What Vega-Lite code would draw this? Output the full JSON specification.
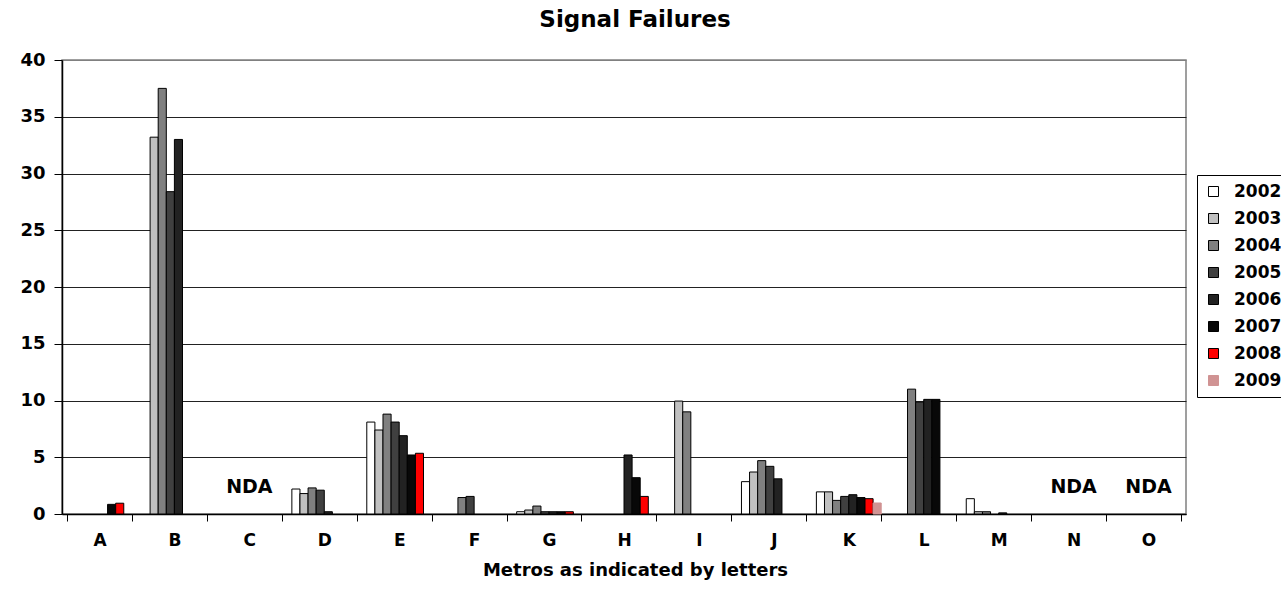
{
  "$schema": "https://vega.github.io/schema/vega-lite/v6.json",
  "width": 1124,
  "height": 454,
  "autosize": {"type": "none"},
  "padding": {"left": 62, "top": 60, "right": 95, "bottom": 80},
  "background": "white",
  "config": {"font": "DejaVu Sans", "view": {"stroke": "#808080", "strokeWidth": 1.5}},
  "title": {"text": "Signal Failures", "fontSize": 23, "fontWeight": "bold", "font": "DejaVu Sans", "color": "black", "anchor": "middle", "baseline": "alphabetic", "dx": 11, "offset": 1},
  "layer": [
    {
      "data": {"values": [
        {"metro": "A", "year": "2007", "value": 0.85},
        {"metro": "A", "year": "2008", "value": 0.95},
        {"metro": "B", "year": "2003", "value": 33.2},
        {"metro": "B", "year": "2004", "value": 37.5},
        {"metro": "B", "year": "2005", "value": 28.4},
        {"metro": "B", "year": "2006", "value": 33.0},
        {"metro": "D", "year": "2002", "value": 2.2},
        {"metro": "D", "year": "2003", "value": 1.8},
        {"metro": "D", "year": "2004", "value": 2.3},
        {"metro": "D", "year": "2005", "value": 2.1},
        {"metro": "D", "year": "2006", "value": 0.2},
        {"metro": "E", "year": "2002", "value": 8.1},
        {"metro": "E", "year": "2003", "value": 7.4},
        {"metro": "E", "year": "2004", "value": 8.8},
        {"metro": "E", "year": "2005", "value": 8.1},
        {"metro": "E", "year": "2006", "value": 6.9},
        {"metro": "E", "year": "2007", "value": 5.2},
        {"metro": "E", "year": "2008", "value": 5.35},
        {"metro": "F", "year": "2004", "value": 1.45},
        {"metro": "F", "year": "2005", "value": 1.55},
        {"metro": "G", "year": "2002", "value": 0.2},
        {"metro": "G", "year": "2003", "value": 0.35},
        {"metro": "G", "year": "2004", "value": 0.7},
        {"metro": "G", "year": "2005", "value": 0.2},
        {"metro": "G", "year": "2006", "value": 0.2},
        {"metro": "G", "year": "2007", "value": 0.2},
        {"metro": "G", "year": "2008", "value": 0.2},
        {"metro": "H", "year": "2006", "value": 5.2},
        {"metro": "H", "year": "2007", "value": 3.2},
        {"metro": "H", "year": "2008", "value": 1.55},
        {"metro": "I", "year": "2003", "value": 9.95},
        {"metro": "I", "year": "2004", "value": 9.0},
        {"metro": "J", "year": "2002", "value": 2.85},
        {"metro": "J", "year": "2003", "value": 3.7},
        {"metro": "J", "year": "2004", "value": 4.7},
        {"metro": "J", "year": "2005", "value": 4.2},
        {"metro": "J", "year": "2006", "value": 3.1},
        {"metro": "K", "year": "2002", "value": 1.95},
        {"metro": "K", "year": "2003", "value": 1.95},
        {"metro": "K", "year": "2004", "value": 1.2},
        {"metro": "K", "year": "2005", "value": 1.55},
        {"metro": "K", "year": "2006", "value": 1.7},
        {"metro": "K", "year": "2007", "value": 1.45},
        {"metro": "K", "year": "2008", "value": 1.35},
        {"metro": "K", "year": "2009", "value": 0.97},
        {"metro": "L", "year": "2004", "value": 11.0},
        {"metro": "L", "year": "2005", "value": 9.85},
        {"metro": "L", "year": "2006", "value": 10.1},
        {"metro": "L", "year": "2007", "value": 10.1},
        {"metro": "M", "year": "2002", "value": 1.35},
        {"metro": "M", "year": "2003", "value": 0.2},
        {"metro": "M", "year": "2004", "value": 0.2},
        {"metro": "M", "year": "2006", "value": 0.1}
      ]},
      "mark": {"type": "bar", "strokeWidth": 1},
      "encoding": {
        "x": {
          "field": "metro", "type": "nominal",
          "scale": {"domain": ["A","B","C","D","E","F","G","H","I","J","K","L","M","N","O"], "paddingInner": 0.135, "paddingOuter": 0.0676},
          "axis": {
            "labelAngle": 0, "labelFontSize": 17, "labelFontWeight": "bold", "labelColor": "black", "labelPadding": 11, "labelFont": "DejaVu Sans",
            "tickBand": "extent", "tickSize": 7, "tickColor": "black", "domainColor": "black", "domainWidth": 1.5,
            "title": "Metros as indicated by letters", "titleFontSize": 18, "titleFontWeight": "bold", "titleColor": "black", "titleFont": "DejaVu Sans",
            "titleX": 573, "titleY": 61, "titleBaseline": "alphabetic", "titleAnchor": "middle", "titleAlign": "center"
          }
        },
        "xOffset": {"field": "year", "type": "nominal", "scale": {"domain": ["2002","2003","2004","2005","2006","2007","2008","2009"], "paddingInner": 0, "paddingOuter": 0}},
        "y": {
          "field": "value", "type": "quantitative",
          "scale": {"domain": [0, 40], "nice": false},
          "axis": {
            "values": [0,5,10,15,20,25,30,35,40], "title": null,
            "labelFontSize": 18, "labelFontWeight": "bold", "labelColor": "black", "labelPadding": 9, "labelFont": "DejaVu Sans",
            "tickSize": 8, "tickColor": "black", "domainColor": "black", "domainWidth": 1.5,
            "grid": true, "gridColor": {"condition": {"test": "datum.value === 40", "value": "#808080"}, "value": "#222222"}, "gridWidth": 1
          }
        },
        "fill": {
          "field": "year", "type": "nominal",
          "scale": {"domain": ["2002","2003","2004","2005","2006","2007","2008","2009"], "range": ["#FFFFFF","#C0C0C0","#808080","#404040","#222222","#080808","#FF0000","#D09393"]},
          "legend": {
            "orient": "none", "legendX": 1135, "legendY": 115, "title": null,
            "strokeColor": "black", "fillColor": "white", "padding": 8,
            "symbolType": "square", "symbolSize": 100, "symbolStrokeWidth": 1, "symbolOpacity": 1,
            "labelFontSize": 17, "labelFontWeight": "bold", "labelColor": "black", "labelFont": "DejaVu Sans",
            "rowPadding": 9, "labelOffset": 12
          }
        },
        "stroke": {
          "field": "year", "type": "nominal",
          "scale": {"domain": ["2002","2003","2004","2005","2006","2007","2008","2009"], "range": ["#000000","#000000","#000000","#000000","#000000","#000000","#000000","#D09393"]}
        }
      }
    },
    {
      "data": {"values": [
        {"metro": "C", "label": "NDA", "value": 2.35},
        {"metro": "N", "label": "NDA", "value": 2.35},
        {"metro": "O", "label": "NDA", "value": 2.35}
      ]},
      "mark": {"type": "text", "fontSize": 19, "fontWeight": "bold", "font": "DejaVu Sans", "color": "black", "baseline": "middle", "align": "center"},
      "encoding": {
        "x": {"field": "metro", "type": "nominal"},
        "y": {"field": "value", "type": "quantitative"},
        "text": {"field": "label"}
      }
    }
  ]
}
